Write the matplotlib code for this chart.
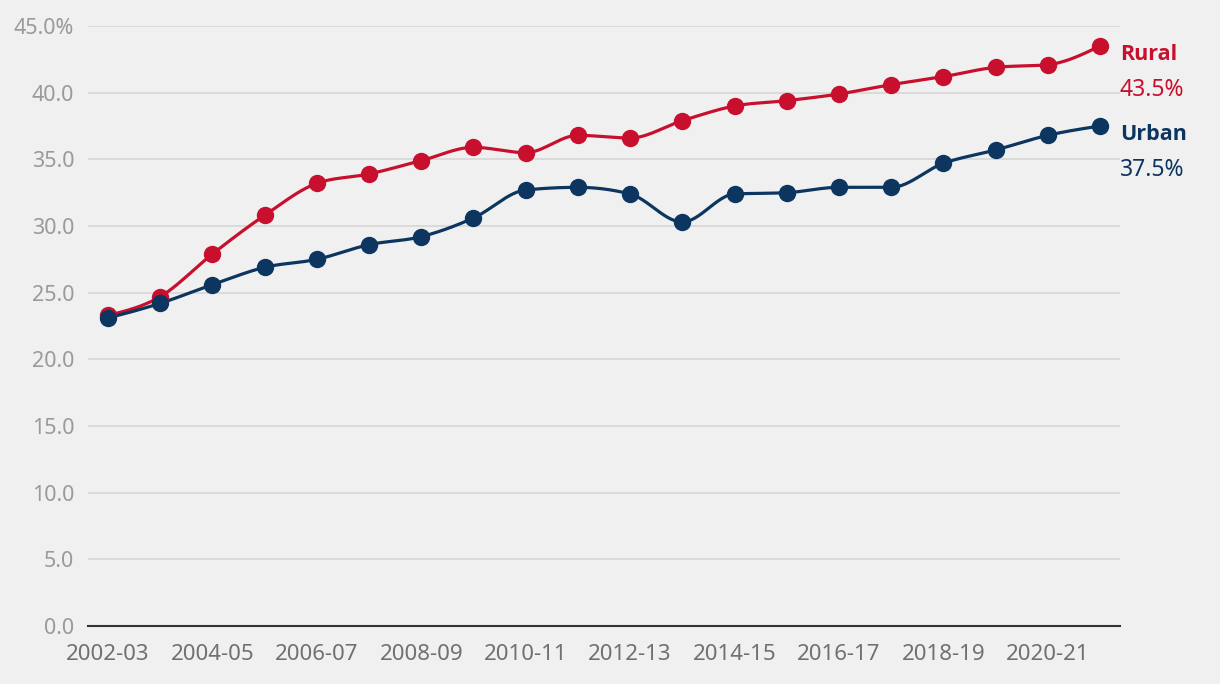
import numpy as np
import matplotlib
matplotlib.use('Agg')
import matplotlib.pyplot as plt

# 年度與兩條序列（百分比）
years = ['2002-03', '2003-04', '2004-05', '2005-06', '2006-07', '2007-08', '2008-09',
         '2009-10', '2010-11', '2011-12', '2012-13', '2013-14', '2014-15', '2015-16',
         '2016-17', '2017-18', '2018-19', '2019-20', '2020-21', '2021-22']
rural = [23.3, 24.7, 27.9, 30.8, 33.2, 33.9, 34.9, 35.9, 35.5, 36.8,
         36.6, 37.9, 39.0, 39.4, 39.9, 40.6, 41.2, 41.9, 42.1, 43.5]
urban = [23.1, 24.2, 25.6, 26.9, 27.5, 28.6, 29.2, 30.6, 32.7, 32.9,
         32.4, 30.3, 32.4, 32.5, 32.9, 32.9, 34.7, 35.7, 36.8, 37.5]
y_ticks = [0, 5, 10, 15, 20, 25, 30, 35, 40, 45]

RED = '#c8102e'
BLUE = '#0c3560'
BG = '#f0f0f0'
FONT = 'Noto Sans'
BOLD_FONT = 'Open Sans'


def monotone_curve(x, y, n=30):
    """monotoneX 平滑曲線（與 d3 相同的切線計算）"""
    x = np.asarray(x, float)
    y = np.asarray(y, float)
    h = np.diff(x)
    s = np.diff(y) / h
    t = np.zeros_like(y)
    for i in range(1, len(y) - 1):
        p = (s[i - 1] * h[i] + s[i] * h[i - 1]) / (h[i - 1] + h[i])
        t[i] = (np.sign(s[i - 1]) + np.sign(s[i])) * min(abs(s[i - 1]), abs(s[i]), 0.5 * abs(p))
    t[0] = (3 * s[0] - t[1]) / 2
    t[-1] = (3 * s[-1] - t[-2]) / 2
    xs, ys = [], []
    u = np.linspace(0, 1, n)
    for i in range(len(y) - 1):
        dx = h[i] / 3
        P = np.array([[x[i], y[i]], [x[i] + dx, y[i] + dx * t[i]],
                      [x[i + 1] - dx, y[i + 1] - dx * t[i + 1]], [x[i + 1], y[i + 1]]])
        b = ((1 - u) ** 3)[:, None] * P[0] + (3 * (1 - u) ** 2 * u)[:, None] * P[1] \
            + (3 * (1 - u) * u ** 2)[:, None] * P[2] + (u ** 3)[:, None] * P[3]
        xs.append(b[:, 0])
        ys.append(b[:, 1])
    return np.concatenate(xs), np.concatenate(ys)


fig = plt.figure(figsize=(12.2, 6.84), dpi=100, facecolor=BG)
ax = fig.add_axes([88 / 1220, 58 / 684, 1032 / 1220, 600 / 684], facecolor=BG)

xs = np.arange(len(years))
for vals, color in [(rural, RED), (urban, BLUE)]:
    cx, cy = monotone_curve(xs, vals)
    ax.plot(cx, cy, color=color, linewidth=2.3, solid_capstyle='round', zorder=3)
    ax.plot(xs, vals, 'o', color=color, markersize=11.5, zorder=4)

ax.set_xlim(-0.383, 19.383)
ax.set_ylim(0, 45)
ax.set_yticks(y_ticks)
ax.set_yticklabels(['45.0%' if v == 45 else f'{v:.1f}' for v in y_ticks],
                   fontsize=15.5, color='#9a9a9a', family=FONT)
ax.set_xticks(xs[::2])
ax.set_xticklabels(years[::2], fontsize=16, color='#707070', family=FONT)
ax.tick_params(axis='both', length=0)
ax.tick_params(axis='y', pad=10)
ax.tick_params(axis='x', pad=13)
ax.grid(axis='y', color='#d6d6d6', linewidth=1.2)
ax.set_axisbelow(True)
for side in ['top', 'right', 'left']:
    ax.spines[side].set_visible(False)
ax.spines['bottom'].set_color('#333333')
ax.spines['bottom'].set_linewidth(1.5)

# 右側標籤
for name, vals, color in [('Rural', rural, RED), ('Urban', urban, BLUE)]:
    ax.annotate(name, xy=(1, vals[-1]), xycoords=('axes fraction', 'data'),
                xytext=(0, -6), textcoords='offset points', ha='left', va='center',
                fontsize=15.5, fontweight='bold', color=color, family=BOLD_FONT,
                annotation_clip=False)
    ax.annotate(f'{vals[-1]:.1f}%', xy=(1, vals[-1]), xycoords=('axes fraction', 'data'),
                xytext=(0, -32), textcoords='offset points', ha='left', va='center',
                fontsize=16.5, color=color, family=FONT, annotation_clip=False)

fig.savefig('out.png', dpi=100, facecolor=BG)
